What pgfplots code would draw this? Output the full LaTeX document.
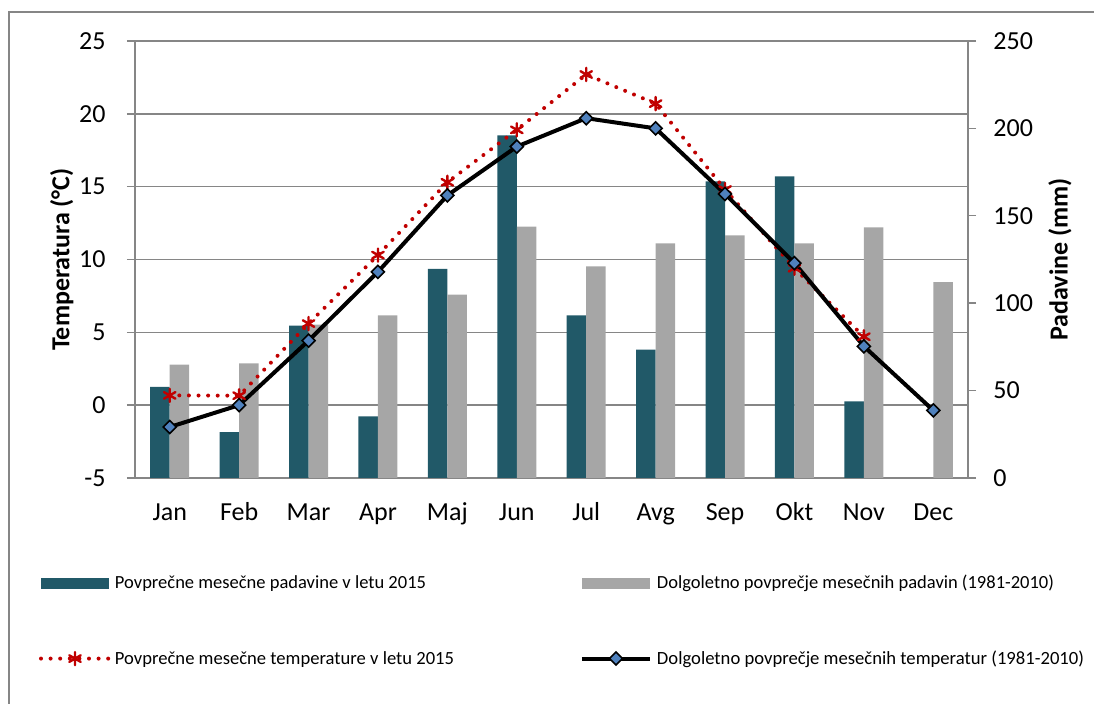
\documentclass[border=0pt]{standalone}
\usepackage{pgfplots}
\pgfplotsset{compat=1.18}
\usepackage{pgfplotstable}
\usepackage{fontspec}
\setmainfont{Carlito}
\usepackage{graphicx}
\definecolor{teal2015}{HTML}{215968}
\definecolor{graybar}{HTML}{A6A6A6}
\definecolor{gridgray}{HTML}{868686}
\definecolor{redline}{HTML}{C00000}
\definecolor{bluemark}{HTML}{4F81BD}

\pgfplotstableread{
x p2015 plt
0 52.1 64.8
1 26.3 65.6
2 87.1 87.7
3 35.3 93.0
4 119.7 104.9
5 196.0 143.8
6 93.0 121.0
7 73.4 134.2
8 169.7 138.8
9 172.5 134.2
10 43.8 143.4
11 nan 112.1
}\precip

\pgfplotstableread{
x t2015 tlt
0 0.67 -1.5
1 0.65 0.0
2 5.6 4.43
3 10.3 9.15
4 15.3 14.4
5 18.9 17.75
6 22.7 19.7
7 20.7 19.0
8 14.8 14.5
9 9.4 9.75
10 4.7 4.04
11 nan -0.36
}\temps

\pgfplotsset{
  base/.style={scale only axis, width=416.5pt, height=218.5pt,
    at={(67.5pt,113pt)}, anchor=south west, xmin=-0.5, xmax=11.5,
    /pgf/number format/assume math mode=true,
    tick label style={font=\fontsize{13}{15}\selectfont}},
  lineleg/.style={legend image code/.code={\draw[mark repeat=2, mark phase=2, ##1] plot coordinates {(0pt,2.85pt) (17pt,2.85pt) (34pt,2.85pt)};}},
  barleg/.style={legend image code/.code={\fill[##1] (0pt,0pt) rectangle (34pt,5.35pt);}},
  redstyle/.style={redline, line width=2pt, dash pattern=on 0pt off 4.8pt, line cap=round,
    mark=asterisk, mark size=3.3pt, mark options={solid, line width=1.2pt}},
  blackstyle/.style={black, line width=2pt, mark=square*, mark size=2.3pt,
    mark options={fill=bluemark, draw=black, line width=0.8pt, rotate=45, solid}},
}
\newcommand\lt[2]{\resizebox{#1}{!}{#2}}

\begin{document}
\begin{tikzpicture}
\useasboundingbox (0,0) rectangle (547pt,352pt);
\draw[gridgray, line width=0.75pt] (4.5pt,0) -- (4.5pt,346pt) -- (547pt,346pt);

% background axis: temperature grid and left ticks
\begin{axis}[base, ymin=-5, ymax=25, ytick={-5,0,...,25},
  axis x line=bottom, axis y line=left,
  axis line style={-, draw=gridgray, line width=0.7pt},
  ymajorgrids, grid style={draw=gridgray, line width=0.7pt},
  tick align=outside, major tick length=4pt,
  ytick style={draw=gridgray, line width=0.7pt},
  xtick={0,...,11},
  xticklabels={Jan,Feb,Mar,Apr,Maj,Jun,Jul,Avg,Sep,Okt,Nov,Dec},
  xtick style={draw=none},
  yticklabel style={anchor=east, inner sep=0pt, xshift=-10.5pt},
  xticklabel style={anchor=base, inner sep=0pt, yshift=-17.5pt},
  ylabel={Temperatura (°C)},
  ylabel style={font=\bfseries\fontsize{13}{15}\selectfont,
    at={(axis description cs:-0.088,0.5)}, anchor=center},
]
\end{axis}

% precipitation bars
\begin{axis}[base, ymin=0, ymax=250, ytick={0,50,...,250},
  axis x line=none, axis y line=right,
  axis line style={-, draw=gridgray, line width=0.7pt},
  tick align=outside, major tick length=4pt,
  ytick style={draw=gridgray, line width=0.7pt},
  yticklabel style={anchor=west, inner sep=0pt, xshift=8.5pt},
  ylabel={Padavine (mm)},
  ylabel style={font=\bfseries\fontsize{13}{15}\selectfont,
    at={(axis description cs:1.1104,0.5)}, anchor=center},
  bar width=9.75pt,
  legend columns=2,
  legend style={draw=none, fill=none, inner sep=0pt, outer sep=0pt,
    at={(axis description cs:-0.11525,-0.22654)}, anchor=north west,
    font=\fontsize{8.3}{10}\selectfont,
    row sep=29.5pt,
    nodes={inner sep=0pt, text height=6pt, text depth=2pt},
    cells={anchor=base west},
    /tikz/column 1/.style={column sep=2pt},
    /tikz/column 2/.style={column sep=63pt},
    /tikz/column 3/.style={column sep=2.5pt}},
]
\addplot[ybar, fill=teal2015, draw=none, bar shift=-4.875pt, barleg]
  table[x=x,y=p2015] {\precip};
\addlegendentry{\lt{155.5pt}{Povprečne mesečne padavine v letu 2015}}
\addplot[ybar, fill=graybar, draw=none, bar shift=4.875pt, barleg]
  table[x=x,y=plt] {\precip};
\addlegendentry{\lt{198.5pt}{Dolgoletno povprečje mesečnih padavin (1981-2010)}}
\addlegendimage{redstyle, lineleg}
\addlegendentry{\lt{169.5pt}{Povprečne mesečne temperature v letu 2015}}
\addlegendimage{blackstyle, lineleg}
\addlegendentry{\lt{213.5pt}{Dolgoletno povprečje mesečnih temperatur (1981-2010)}}
\end{axis}

% temperature lines
\begin{axis}[base, ymin=-5, ymax=25, hide axis]
\addplot[redstyle] table[x=x,y=t2015] {\temps};
\addplot[blackstyle] table[x=x,y=tlt] {\temps};
\end{axis}
\end{tikzpicture}
\end{document}
